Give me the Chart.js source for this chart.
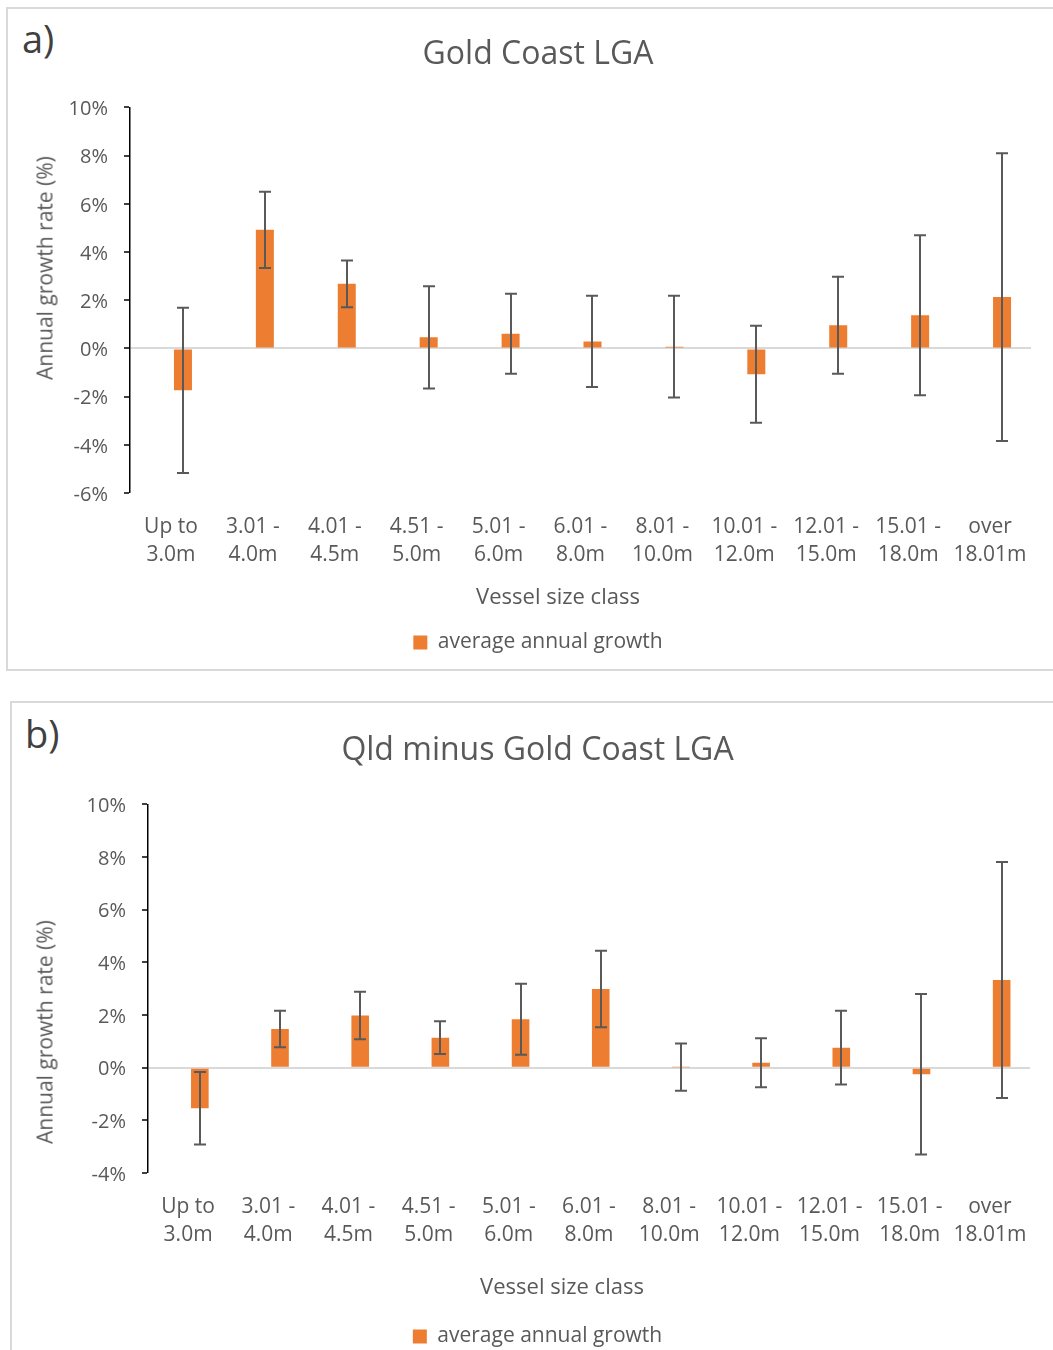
<!DOCTYPE html>
<html><head><meta charset="utf-8">
<script src="https://cdn.jsdelivr.net/npm/chart.js@4"></script>
<style>
html,body{margin:0;padding:0;background:#fff;width:1053px;height:1350px;overflow:hidden;position:relative;font-family:'Open Sans';}
.box{position:absolute;border:2px solid #d9d9d9;box-sizing:border-box;}
.lbl{position:absolute;font-family:'Open Sans';font-size:38px;line-height:38px;color:#404040;}
.wrap{position:absolute;left:0;width:1053px;height:670px;}
canvas{position:absolute;left:0;top:0;}
.axt{position:absolute;white-space:nowrap;font-family:'Open Sans';color:#595959;line-height:1;transform:translate(-50%,-50%);}
.axt.rot{transform:translate(-50%,-50%) rotate(-90deg);}
</style></head><body>
<div class="box" style="left:6px;top:7px;width:1060px;height:664px"></div>
<div class="box" style="left:10px;top:701px;width:1060px;height:700px"></div>
<div class="lbl" style="left:22px;top:19px">a)</div>
<div class="lbl" style="left:25px;top:714px">b)</div>
<div class="wrap" style="top:0px"><canvas id="ca" width="1053" height="670"></canvas></div>
<div class="wrap" style="top:690px"><canvas id="cb" width="1053" height="670"></canvas></div>
<div class="axt rot" id="ytA" style="left:45px;top:268px;font-size:21px"></div>
<div class="axt rot" id="ytB" style="left:45px;top:1032px;font-size:21px"></div>
<div class="axt" id="xtA" style="left:558px;top:595px;font-size:22px"></div>
<div class="axt" id="xtB" style="left:562px;top:1285px;font-size:22px"></div>
<script>
const categories = [['Up to','3.0m'],['3.01 -','4.0m'],['4.01 -','4.5m'],['4.51 -','5.0m'],['5.01 -','6.0m'],['6.01 -','8.0m'],['8.01 -','10.0m'],['10.01 -','12.0m'],['12.01 -','15.0m'],['15.01 -','18.0m'],['over','18.01m']];
const seriesName = 'average annual growth';
const titleA = 'Gold Coast LGA';
const titleB = 'Qld minus Gold Coast LGA';
const growthA = [-1.74, 4.92, 2.68, 0.46, 0.61, 0.29, 0.07, -1.07, 0.96, 1.38, 2.13];
const errA    = [3.43, 1.58, 0.97, 2.12, 1.66, 1.89, 2.11, 2.01, 2.01, 3.32, 5.97];
const growthB = [-1.54, 1.47, 1.98, 1.14, 1.84, 2.99, 0.02, 0.19, 0.76, -0.25, 3.33];
const errB    = [1.38, 0.69, 0.90, 0.62, 1.35, 1.45, 0.90, 0.93, 1.40, 3.05, 4.48];
const emptySeries = [null, null, null, null, null, null, null, null, null, null, null];
const yRangeA = [-6, 10];
const yRangeB = [-4, 10];
const yStep = 2;
const xTitle = 'Vessel size class';
const yTitle = 'Annual growth rate (%)';

document.getElementById('ytA').textContent = yTitle;
document.getElementById('ytB').textContent = yTitle;
document.getElementById('xtA').textContent = xTitle;
document.getElementById('xtB').textContent = xTitle;

const TXT = '#595959';
const FONT = 'Open Sans';

const errorBarPlugin = {
  id: 'errorBars',
  afterDatasetsDraw(chart, args, opts) {
    const errs = opts.errors || [];
    const ctx = chart.ctx, y = chart.scales.y;
    const meta = chart.getDatasetMeta(1);
    const data = chart.data.datasets[1].data;
    ctx.save();
    ctx.strokeStyle = '#595959';
    ctx.lineWidth = 2;
    meta.data.forEach((bar, i) => {
      const v = data[i], e = errs[i];
      const yt = y.getPixelForValue(v + e), yb = y.getPixelForValue(v - e);
      const x = Math.round(bar.x), cw = 6;
      ctx.beginPath();
      ctx.moveTo(x, yt); ctx.lineTo(x, yb);
      ctx.moveTo(x - cw, yt); ctx.lineTo(x + cw, yt);
      ctx.moveTo(x - cw, yb); ctx.lineTo(x + cw, yb);
      ctx.stroke();
    });
    ctx.restore();
  }
};

function makeChart(id, title, values, errs, yr, L) {
  return new Chart(document.getElementById(id), {
    type: 'bar',
    data: {
      labels: categories,
      datasets: [
        { label: 'spacer', data: emptySeries, backgroundColor: 'rgba(0,0,0,0)', borderWidth: 0,
          barPercentage: 0.75, categoryPercentage: 0.586 },
        { label: seriesName, data: values, backgroundColor: '#ED7D31', borderWidth: 0,
          barPercentage: 0.75, categoryPercentage: 0.586 }
      ]
    },
    plugins: [errorBarPlugin],
    options: {
      responsive: false, animation: false, devicePixelRatio: 1,
      layout: { padding: { left: 45, right: L.right, top: 0, bottom: L.bottom } },
      plugins: {
        errorBars: { errors: errs },
        tooltip: { enabled: false },
        title: { display: true, text: title, color: TXT,
          font: { family: FONT, size: 32, weight: 'normal', lineHeight: 1.2 },
          padding: { top: L.tTop, bottom: L.tBot } },
        legend: { position: 'bottom',
          labels: { color: TXT, boxWidth: 14, boxHeight: 14, padding: 10,
            font: { family: FONT, size: 21 },
            filter: item => item.datasetIndex === 1 } }
      },
      scales: {
        x: {
          grid: { display: false, drawTicks: false },
          border: { display: false },
          ticks: { color: TXT, padding: 20, maxRotation: 0, autoSkip: false,
            font: { family: FONT, size: 21, lineHeight: 1.3333 } },
          title: { display: false },
          afterFit(s) { s.height = L.xH; }
        },
        y: {
          min: yr[0], max: yr[1],
          ticks: { stepSize: yStep, color: TXT, padding: 16, labelOffset: 2,
            font: { family: FONT, size: 20 },
            callback: v => v + '%' },
          grid: { drawTicks: true, tickLength: 6, tickColor: '#000', tickWidth: 1.5,
            color: c => (c.tick && c.tick.value === 0) ? '#d9d9d9' : 'rgba(0,0,0,0)',
            lineWidth: c => (c.tick && c.tick.value === 0) ? 2 : 0 },
          border: { display: true, color: '#000', width: 1.5 },
          title: { display: false },
          afterFit(s) { s.width = L.yW; }
        }
      }
    }
  });
}

makeChart('ca', titleA, growthA, errA, yRangeA,
  { right: 22, bottom: 7, tTop: 36, tBot: 33, xH: 129, yW: 85 });
makeChart('cb', titleB, growthB, errB, yRangeB,
  { right: 23, bottom: 3, tTop: 42, tBot: 34, xH: 143, yW: 103 });
</script>
</body></html>
